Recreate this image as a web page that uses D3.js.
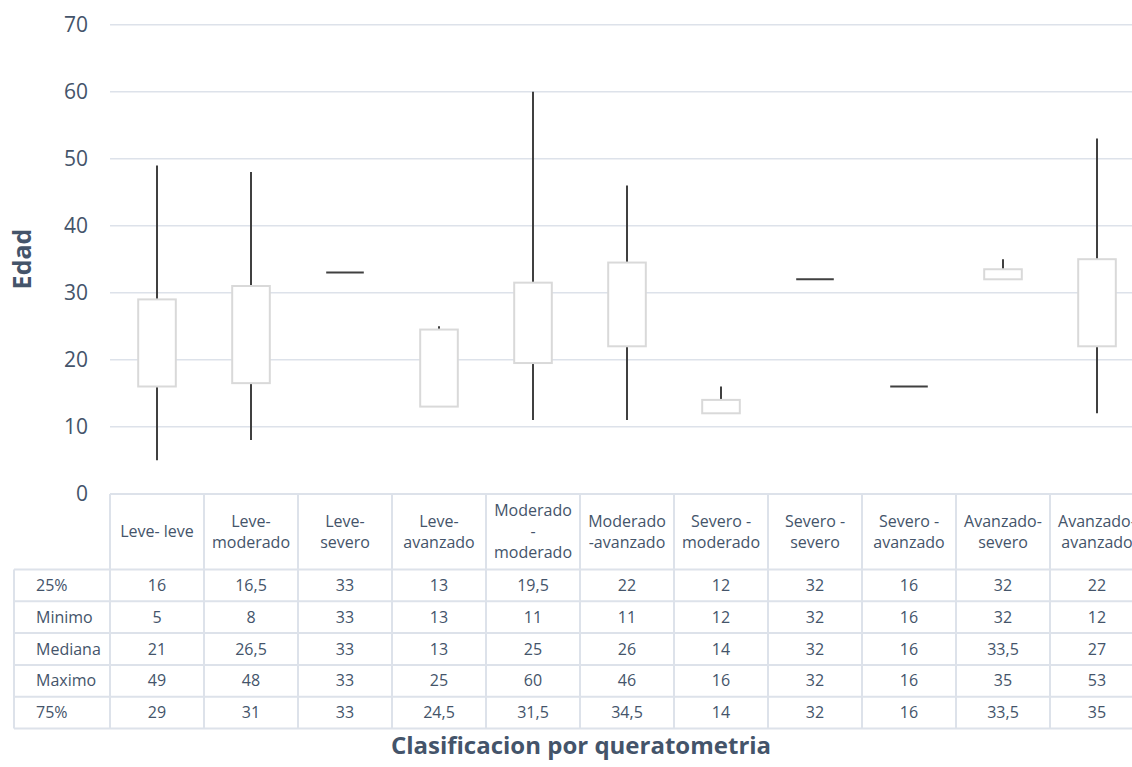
<!DOCTYPE html>
<html>
<head>
<meta charset="utf-8">
<script src="https://cdn.jsdelivr.net/npm/d3@7"></script>
<style>
  html, body { margin: 0; padding: 0; background: #fff; }
  svg { display: block; font-family: "Open Sans", "Noto Sans", sans-serif; }
</style>
</head>
<body>
<svg id="chart" width="1132" height="767"></svg>
<script>
// Categories (header lines of the data table, split with "|")
const categories = [
  "Leve- leve", "Leve-|moderado", "Leve-|severo", "Leve-|avanzado",
  "Moderado|-|moderado", "Moderado|-avanzado", "Severo -|moderado",
  "Severo -|severo", "Severo -|avanzado", "Avanzado-|severo", "Avanzado-|avanzado"
];

// Age statistics per category
const q1      = [16, 16.5, 33, 13, 19.5, 22, 12, 32, 16, 32, 22];
const minimo  = [5, 8, 33, 13, 11, 11, 12, 32, 16, 32, 12];
const mediana = [21, 26.5, 33, 13, 25, 26, 14, 32, 16, 33.5, 27];
const maximo  = [49, 48, 33, 25, 60, 46, 16, 32, 16, 35, 53];
const q3      = [29, 31, 33, 24.5, 31.5, 34.5, 14, 32, 16, 33.5, 35];

const yTicks = [0, 10, 20, 30, 40, 50, 60, 70];

// Table rows in display order
const rowNames = ["25%", "Minimo", "Mediana", "Maximo", "75%"];
const rowValues = [q1, minimo, mediana, maximo, q3];

const textColor = "#44546A";
const gridColor = "#DDE2EA";
const boxStroke = "#D9D9D9";
const whiskerColor = "#404040";

const svg = d3.select("#chart");
const W = 1132, H = 767;

const x = d3.scaleBand().domain(d3.range(categories.length)).range([110, 1144]).padding(0);
const y = d3.scaleLinear().domain([0, 70]).range([493.7, 24.7]);

const fmt = v => String(v).replace(".", ",");

// Horizontal gridlines
svg.append("g").selectAll("line").data(yTicks.filter(t => t > 0)).join("line")
  .attr("x1", 110).attr("x2", W)
  .attr("y1", d => y(d)).attr("y2", d => y(d))
  .attr("stroke", gridColor).attr("stroke-width", 1.5);

// Y axis tick labels
const yAxis = d3.axisLeft(y).tickValues(yTicks).tickSize(0).tickPadding(0);
const gy = svg.append("g").attr("transform", "translate(88,0)").call(yAxis);
gy.select(".domain").remove();
gy.selectAll("text")
  .attr("fill", textColor).attr("font-size", 21)
  .attr("font-family", "'Open Sans', sans-serif");

// Y axis title
svg.append("text")
  .attr("transform", "translate(31,259) rotate(-90)")
  .attr("text-anchor", "middle")
  .attr("font-size", 25).attr("font-weight", "bold")
  .attr("fill", textColor).text("Edad");

// Box plot marks
const bw = x.bandwidth() * 0.4;
const marks = svg.append("g");
categories.forEach((c, i) => {
  const cx = x(i) + x.bandwidth() / 2;
  // whisker from minimum to maximum
  if (maximo[i] !== minimo[i]) {
    marks.append("line")
      .attr("x1", cx).attr("x2", cx)
      .attr("y1", y(minimo[i])).attr("y2", y(maximo[i]))
      .attr("stroke", whiskerColor).attr("stroke-width", 2);
  }
  if (q3[i] !== q1[i]) {
    const top = Math.max(q1[i], q3[i]), bot = Math.min(q1[i], q3[i]);
    marks.append("rect")
      .attr("x", cx - bw / 2).attr("y", y(top))
      .attr("width", bw).attr("height", y(bot) - y(top))
      .attr("fill", "#fff").attr("stroke", boxStroke).attr("stroke-width", 2);
  } else {
    marks.append("line")
      .attr("x1", cx - bw / 2).attr("x2", cx + bw / 2)
      .attr("y1", y(q1[i])).attr("y2", y(q1[i]))
      .attr("stroke", whiskerColor).attr("stroke-width", 2);
  }
});

// Data table
const headerTop = 494, headerBottom = 569.5, rowH = 31.8;
const labelLeft = 14;
const tableBottom = headerBottom + rowH * rowNames.length;
const tbl = svg.append("g").attr("stroke", gridColor).attr("stroke-width", 2);

// header top border
tbl.append("line").attr("x1", 110).attr("x2", W).attr("y1", headerTop).attr("y2", headerTop);
// row borders
d3.range(rowNames.length + 1).forEach(r => {
  const yy = headerBottom + r * rowH;
  tbl.append("line").attr("x1", labelLeft).attr("x2", W).attr("y1", yy).attr("y2", yy);
});
// vertical borders
tbl.append("line").attr("x1", labelLeft).attr("x2", labelLeft)
  .attr("y1", headerBottom).attr("y2", tableBottom);
categories.forEach((c, i) => {
  tbl.append("line").attr("x1", x(i)).attr("x2", x(i))
    .attr("y1", headerTop).attr("y2", tableBottom);
});
tbl.append("line").attr("x1", x(categories.length - 1) + x.bandwidth())
  .attr("x2", x(categories.length - 1) + x.bandwidth())
  .attr("y1", headerTop).attr("y2", tableBottom);

// header labels
const lineH = 21;
const headMid = (headerTop + headerBottom) / 2;
categories.forEach((c, i) => {
  const lines = c.split("|");
  const cx = x(i) + x.bandwidth() / 2;
  const t = svg.append("text").attr("text-anchor", "middle")
    .attr("font-size", 16).attr("fill", textColor);
  lines.forEach((ln, k) => {
    t.append("tspan").attr("x", cx)
      .attr("y", headMid + (k - (lines.length - 1) / 2) * lineH)
      .attr("dy", "0.35em").text(ln);
  });
});

// row labels and values
rowNames.forEach((name, r) => {
  const cy = headerBottom + (r + 0.5) * rowH;
  svg.append("text").attr("x", 36).attr("y", cy).attr("dy", "0.35em")
    .attr("font-size", 16).attr("fill", textColor).text(name);
  rowValues[r].forEach((v, i) => {
    svg.append("text").attr("x", x(i) + x.bandwidth() / 2).attr("y", cy)
      .attr("dy", "0.35em").attr("text-anchor", "middle")
      .attr("font-size", 16).attr("fill", textColor).text(fmt(v));
  });
});

// X axis title
svg.append("text").attr("x", 581).attr("y", 746).attr("dy", "0.35em")
  .attr("text-anchor", "middle").attr("font-size", 24).attr("font-weight", "bold")
  .attr("fill", textColor).text("Clasificacion por queratometria");
</script>
</body>
</html>
